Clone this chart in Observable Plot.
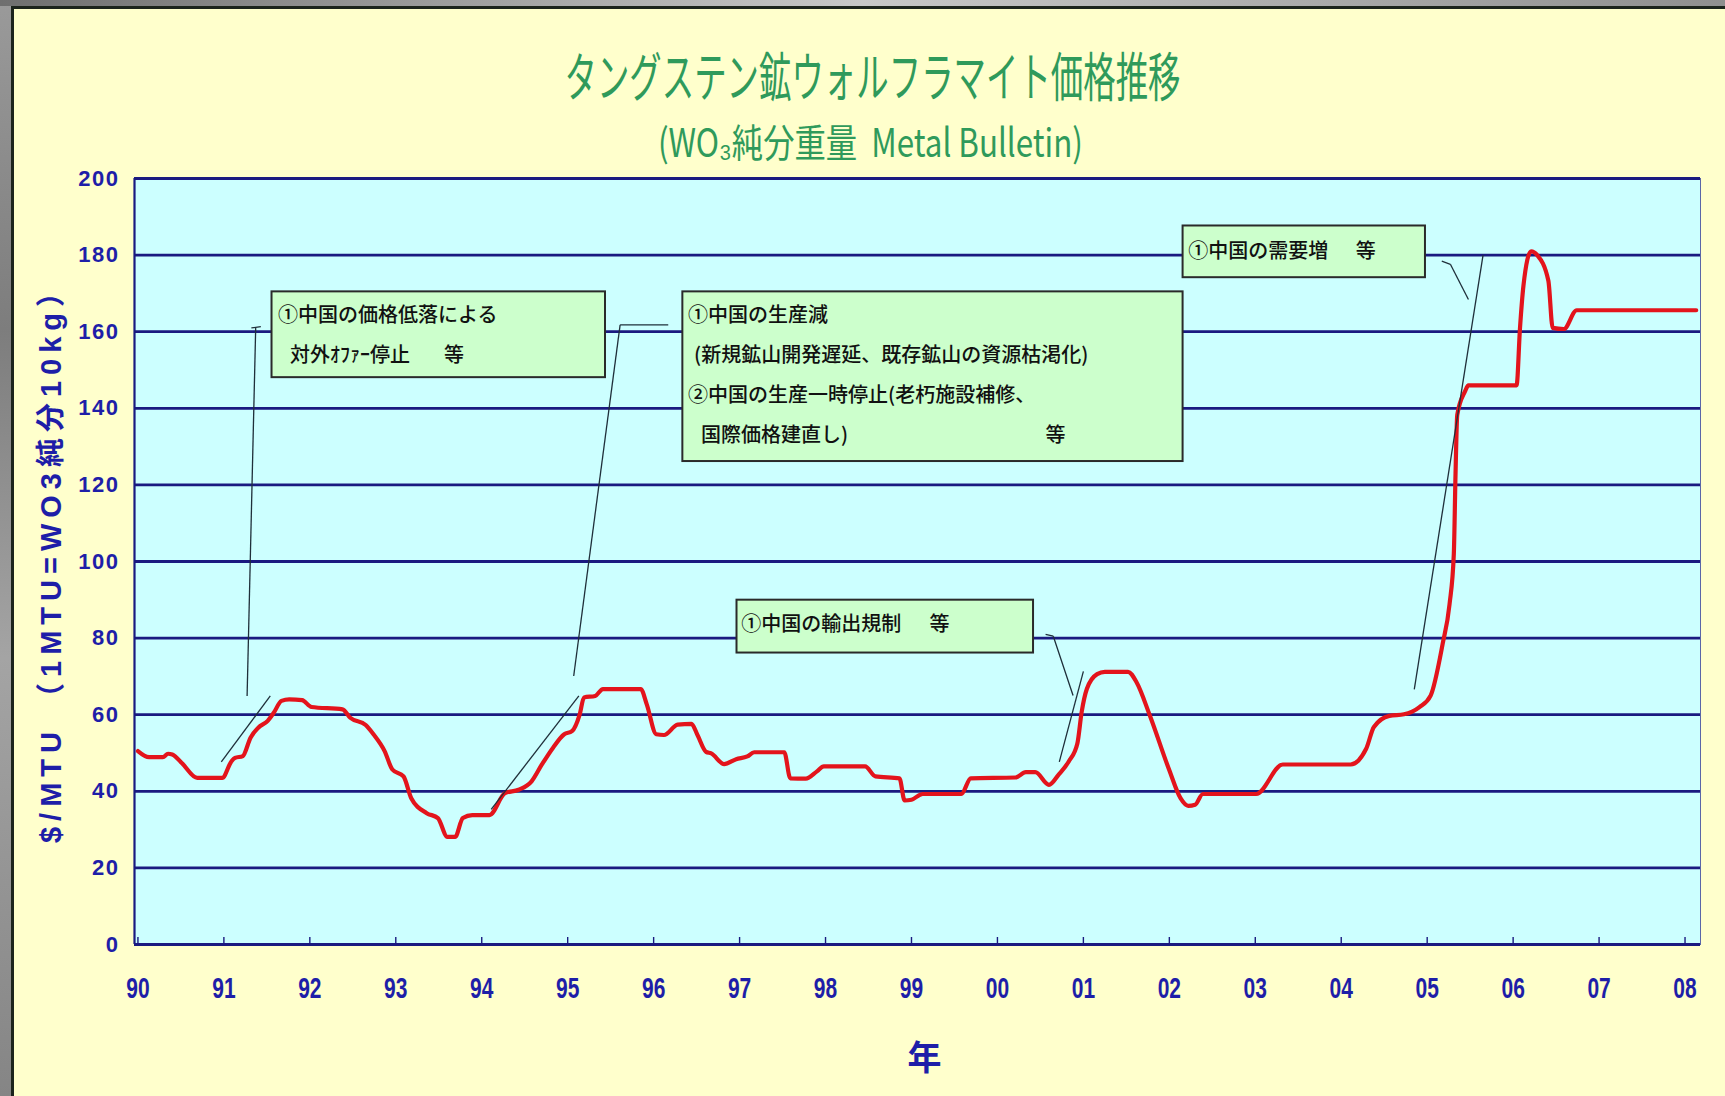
<!DOCTYPE html>
<html>
<head>
<meta charset="utf-8">
<script src="https://cdn.jsdelivr.net/npm/d3@7"></script>
<script src="https://cdn.jsdelivr.net/npm/@observablehq/plot@0.6"></script>
<style>
html, body { margin:0; padding:0; width:1725px; height:1096px; overflow:hidden; }
body { background: linear-gradient(180deg, #9a9a9a, #7d7d7d 30%, #a4a4a4 60%, #858585); }
#topband { position:absolute; left:0; top:0; width:1725px; height:6px; background:linear-gradient(90deg,#6f6f6f,#c8c8c8 50%,#8f8f8f); }
#panel { position:absolute; left:11px; top:6px; right:0; bottom:0; background:#ffffcc; border-left:3px solid #1c241c; border-top:3px solid #1c241c; }
.ttl { position:absolute; width:1725px; text-align:center; color:#2f9a5b; font-family:"Noto Sans CJK JP", sans-serif; white-space:nowrap; line-height:1; }
.ttl span { display:inline-block; transform-origin:50% 50%; }
#title { left:10px; top:48px; font-size:53px; }
#subtitle { left:8px; top:121px; font-size:39px; }
#chart { position:absolute; left:0; top:150px; }
#chart svg [aria-label="y-axis tick label"], #chart svg [aria-label="y-axis tick label"] text {
  font-family:"Liberation Sans", Arial, sans-serif; font-size:22px; font-weight:bold; letter-spacing:1.5px; fill:#1e1ea8;
}
#chart svg [aria-label="x-axis tick label"], #chart svg [aria-label="x-axis tick label"] text {
  font-family:"Liberation Sans", Arial, sans-serif; font-size:30px; font-weight:bold; fill:#1e1ea8;
}
</style>
</head>
<body>
<div id="topband"></div>
<div id="panel"></div>
<div id="title" class="ttl"><span>タングステン鉱ウォルフラマイト価格推移</span></div>
<div id="subtitle" class="ttl"><span>(WO₃純分重量&nbsp;&nbsp;Metal Bulletin)</span></div>
<div id="chart"></div>
<script>
// ---- data: year (decimal) and price ($/MTU) ----
const years = [
  1990.00,1990.13,1990.29,1990.35,1990.40,1990.51,1990.69,1990.98,1991.09,1991.13,
  1991.22,1991.31,1991.40,1991.51,1991.58,1991.67,1991.76,1991.91,1992.02,1992.38,
  1992.47,1992.65,1992.74,1992.87,1992.96,1993.09,1993.18,1993.36,1993.49,1993.60,
  1993.69,1993.78,1993.89,1994.09,1994.27,1994.43,1994.58,1994.70,1994.83,1994.96,
  1995.05,1995.14,1995.19,1995.32,1995.41,1995.85,1995.92,1996.03,1996.12,1996.28,
  1996.44,1996.51,1996.61,1996.67,1996.82,1996.96,1997.09,1997.17,1997.52,1997.59,
  1997.77,1997.90,1997.98,1998.46,1998.58,1998.86,1998.92,1999.00,1999.13,1999.58,
  1999.69,2000.21,2000.33,2000.44,2000.60,2000.71,2000.83,2000.93,2000.98,2001.04,
  2001.16,2001.25,2001.52,2001.62,2001.77,2002.00,2002.13,2002.22,2002.30,2002.39,
  2003.01,2003.32,2004.11,2004.29,2004.38,2004.56,2004.73,2004.91,2005.04,2005.18,
  2005.26,2005.31,2005.33,2005.35,2005.44,2005.48,2006.04,2006.08,2006.12,2006.21,
  2006.28,2006.41,2006.46,2006.59,2006.74,2008.13
];
const prices = [
  50.5,48.9,48.9,49.8,49.6,47.4,43.5,43.5,47.9,48.7,
  49.2,54.0,56.6,58.4,60.5,63.6,64.0,63.8,62.0,61.4,
  59.2,57.3,54.9,50.5,45.7,43.9,38.2,34.3,33.0,28.1,
  28.1,33.0,33.8,33.8,39.5,40.4,42.6,47.0,51.4,54.9,
  55.7,60.1,64.5,64.9,66.7,66.7,62.7,54.9,54.7,57.4,
  57.6,54.7,50.3,49.9,47.1,48.4,49.1,50.2,50.2,43.4,
  43.3,45.2,46.5,46.5,43.9,43.4,37.6,37.8,39.3,39.3,
  43.4,43.6,45.0,45.0,41.7,44.3,47.8,52.5,60.7,66.7,
  70.6,71.2,71.2,68.4,60.0,45.5,38.2,36.2,36.5,39.3,
  39.3,47.0,47.0,51.1,56.8,59.7,60.1,62.0,65.0,78.5,
  88.8,102.0,123.0,138.3,144.4,146.0,146.0,161.0,172.0,181.0,
  180.0,173.3,161.0,160.7,165.6,165.6
];
const tickYears = [1990,1991,1992,1993,1994,1995,1996,1997,1998,1999,2000,2001,2002,2003,2004,2005,2006,2007,2008];
const xTickLabels = ["90","91","92","93","94","95","96","97","98","99","00","01","02","03","04","05","06","07","08"];
const yTicks = [0,20,40,60,80,100,120,140,160,180,200];
const xDomain = [1989.96, 2008.18];
const yLabel = "$/MTU （1MTU=WO3純分10kg）";
const xLabel = "年";

// annotation boxes (in year / price units)
const boxes = [
  {x1:1991.56, x2:1995.44, y1:148.0, y2:170.4},
  {x1:1996.34, x2:2002.16, y1:126.1, y2:170.4},
  {x1:2002.16, x2:2004.98, y1:174.1, y2:187.6},
  {x1:1996.97, x2:2000.42, y1:76.1,  y2:89.9}
];
const boxLines = [
  {x:1991.63, y:164.1, text:"①中国の価格低落による"},
  {x:1991.77, y:153.7, text:"対外ｵﾌｧｰ停止"},
  {x:1993.56, y:153.7, text:"等"},
  {x:1996.40, y:164.1, text:"①中国の生産減"},
  {x:1996.47, y:153.7, text:"(新規鉱山開発遅延、既存鉱山の資源枯渇化)"},
  {x:1996.40, y:143.4, text:"②中国の生産一時停止(老朽施設補修、"},
  {x:1996.55, y:132.8, text:"国際価格建直し)"},
  {x:2000.56, y:132.8, text:"等"},
  {x:2002.22, y:181.0, text:"①中国の需要増"},
  {x:2004.17, y:181.0, text:"等"},
  {x:1997.02, y:83.6,  text:"①中国の輸出規制"},
  {x:1999.21, y:83.6,  text:"等"}
];
// leader lines and trend strokes (in year / price units)
const leaders = [
  {x1:1991.32, y1:161.0, x2:1991.43, y2:161.3},
  {x1:1991.37, y1:161.0, x2:1991.27, y2:64.9},
  {x1:1990.97, y1:47.7,  x2:1991.54, y2:64.9},
  {x1:1995.61, y1:161.8, x2:1996.17, y2:161.8},
  {x1:1995.61, y1:161.8, x2:1995.07, y2:70.1},
  {x1:1994.11, y1:35.3,  x2:1995.13, y2:64.9},
  {x1:2000.56, y1:81.0,  x2:2000.65, y2:80.5},
  {x1:2000.65, y1:80.5,  x2:2000.88, y2:65.0},
  {x1:2000.72, y1:47.7,  x2:2001.00, y2:71.3},
  {x1:2005.17, y1:178.4, x2:2005.27, y2:177.6},
  {x1:2005.27, y1:177.6, x2:2005.48, y2:168.4},
  {x1:2004.85, y1:66.6,  x2:2005.65, y2:180.0}
];

const series = years.map((x, i) => ({x, y: prices[i]}));
const navy = "#1a1a80";
const blue = "#1e1ea8";

const chart = Plot.plot({
  width: 1725,
  height: 946,
  marginTop: 28,
  marginBottom: 152,
  marginLeft: 134,
  marginRight: 25,
  style: {background: "transparent", overflow: "visible"},
  x: {domain: xDomain},
  y: {domain: [0, 200]},
  marks: [
    Plot.frame({fill: "#ccffff", stroke: "#5a66a8", strokeWidth: 1}),
    Plot.ruleY(yTicks, {stroke: navy, strokeWidth: 2.8}),
    Plot.ruleX([xDomain[0]], {stroke: navy, strokeWidth: 2.2}),
    Plot.ruleX(tickYears, {y1: 0, y2: 0, insetTop: -7, stroke: navy, strokeWidth: 1.4}),
    Plot.axisX({ticks: tickYears, tickFormat: d => xTickLabels[tickYears.indexOf(d)], tickSize: 0, tickPadding: 32, color: blue}),
    Plot.axisY({ticks: yTicks, tickSize: 0, tickPadding: 15, color: blue}),
    Plot.line(series, {x: "x", y: "y", stroke: "#e3141c", strokeWidth: 4.2, strokeLinejoin: "round", curve: "monotone-x"}),
    Plot.link(leaders, {x1: "x1", y1: "y1", x2: "x2", y2: "y2", stroke: "#1f2f3a", strokeWidth: 1.3}),
    Plot.rect(boxes, {x1: "x1", x2: "x2", y1: "y1", y2: "y2", fill: "#ccffcc", stroke: "#2a2a2a", strokeWidth: 2}),
    Plot.text(boxLines, {x: "x", y: "y", text: "text", textAnchor: "start", fontSize: 20, fontWeight: 500,
      fontFamily: "Noto Sans CJK JP, sans-serif", fill: "#111"}),
    Plot.text([yLabel], {text: d => d, frameAnchor: "left", textAnchor: "middle", rotate: -90, dx: -83, dy: -4, fontSize: 29,
      fontWeight: "bold", fontFamily: "Liberation Sans, Noto Sans CJK JP, sans-serif", fill: blue}),
    Plot.text([xLabel], {text: d => d, frameAnchor: "bottom", dx: 7, dy: 125, fontSize: 34,
      fontWeight: "bold", fontFamily: "Noto Sans CJK JP, sans-serif", fill: blue})
  ]
});
document.getElementById("chart").appendChild(chart);
// letter spacing for the rotated axis title
chart.querySelectorAll("text").forEach(t => { if (t.textContent === yLabel) t.style.letterSpacing = "6px"; });
// condensed x tick labels, as in the reference
chart.querySelectorAll('[aria-label="x-axis tick label"] text').forEach(t => {
  const tr = t.getAttribute("transform") || "";
  t.setAttribute("transform", tr + " scale(0.7,1)");
});

// condense the titles to the reference widths
function fit(id, target) {
  const s = document.querySelector("#" + id + " span");
  const w = s.getBoundingClientRect().width;
  s.style.transform = "scaleX(" + (target / w) + ")";
}
fit("title", 616);
fit("subtitle", 425);
</script>
</body>
</html>
